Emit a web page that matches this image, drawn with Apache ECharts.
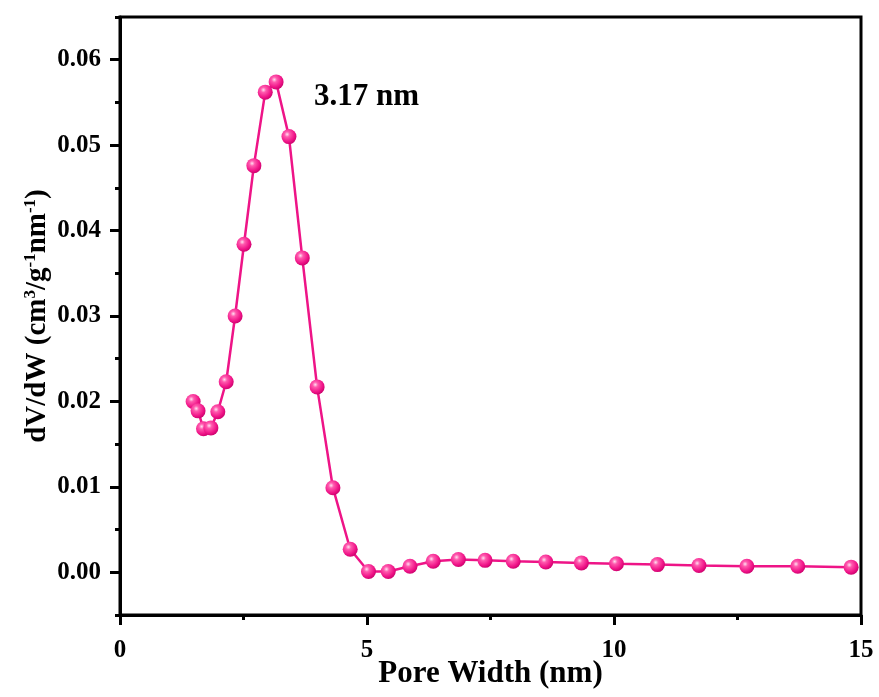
<!DOCTYPE html>
<html>
<head>
<meta charset="utf-8">
<script src="https://cdn.jsdelivr.net/npm/echarts@6/dist/echarts.min.js"></script>
<style>
html,body{margin:0;padding:0;background:#fff;}
#chart{width:879px;height:697px;}
</style>
</head>
<body>
<div id="chart"></div>
<script>
// Pore width (nm)
const poreWidth = [1.48, 1.58, 1.69, 1.84, 1.98, 2.15, 2.33, 2.51, 2.71, 2.94, 3.16, 3.42, 3.69, 3.99, 4.31, 4.66,
  5.03, 5.43, 5.87, 6.34, 6.85, 7.39, 7.96, 8.62, 9.34, 10.05, 10.88, 11.72, 12.69, 13.72, 14.80];
// dV/dW (cm3/g-1nm-1)
const dVdW = [0.0200, 0.0189, 0.0168, 0.0169, 0.0188, 0.0223, 0.0300, 0.0384, 0.0476, 0.0562, 0.0574, 0.0510, 0.0368, 0.0217, 0.0099, 0.0027,
  0.0001, 0.0001, 0.0007, 0.0013, 0.0015, 0.0014, 0.0013, 0.0012, 0.0011, 0.0010, 0.0009, 0.0008, 0.0007, 0.0007, 0.0006];
const yMajorTicks = [0, 0.01, 0.02, 0.03, 0.04, 0.05, 0.06];
const xMajorLabels = [0, 5, 10, 15];
const peakLabel = '3.17 nm';

const FONT = '"Liberation Serif", "Times New Roman", serif';
const chart = echarts.init(document.getElementById('chart'));
const data = poreWidth.map((x, i) => [x, dVdW[i]]);

chart.setOption({
  backgroundColor: '#ffffff',
  animation: false,
  grid: { left: 120, right: 18, top: 17, bottom: 82, outerBoundsMode: 'none', containLabel: false,
    show: true, borderColor: '#000', borderWidth: 3, backgroundColor: 'transparent' },
  xAxis: [
    {
      type: 'value', min: 0, max: 15, interval: 2.5, position: 'bottom',
      name: 'Pore Width (nm)', nameLocation: 'middle', nameGap: 43, nameMoveOverlap: false,
      nameTextStyle: { fontFamily: FONT, fontWeight: 'bold', fontSize: 31, color: '#000' },
      axisLine: { show: true, onZero: false, lineStyle: { color: '#000', width: 3 } },
      axisTick: { show: true, inside: false, length: 5, lineStyle: { color: '#000', width: 3 } },
      axisLabel: { margin: 23, fontFamily: FONT, fontWeight: 'bold', fontSize: 25, color: '#000',
        formatter: v => (xMajorLabels.some(m => Math.abs(m - v) < 1e-6) ? String(v) : '') },
      splitLine: { show: false }
    },
    {
      type: 'value', min: 0, max: 15, interval: 5, position: 'bottom',
      axisLine: { show: false, onZero: false },
      axisTick: { show: true, inside: false, length: 10, lineStyle: { color: '#000', width: 3 } },
      axisLabel: { show: false },
      splitLine: { show: false }
    }
  ],
  yAxis: [
    {
      type: 'value', min: -0.005, max: 0.065, interval: 0.005, position: 'left',
      name: '{a|dV/dW (cm}{s|3}{a|/g}{s|-1}{a|nm}{s|-1}{a|)}',
      nameLocation: 'middle', nameGap: 66, nameRotate: 90, nameMoveOverlap: false,
      nameTextStyle: {
        color: '#000',
        rich: {
          a: { fontFamily: FONT, fontWeight: 'bold', fontSize: 29, color: '#000', lineHeight: 32 },
          s: { fontFamily: FONT, fontWeight: 'bold', fontSize: 17, color: '#000', verticalAlign: 'top', lineHeight: 17 }
        }
      },
      axisLine: { show: true, onZero: false, lineStyle: { color: '#000', width: 3 } },
      axisTick: { show: true, inside: false, length: 5, lineStyle: { color: '#000', width: 3 } },
      axisLabel: { show: false },
      splitLine: { show: false }
    },
    {
      type: 'value', min: -0.005, max: 0.065, position: 'left',
      axisLine: { show: false, onZero: false },
      axisTick: { show: true, inside: false, length: 10, customValues: yMajorTicks, lineStyle: { color: '#000', width: 3 } },
      axisLabel: { show: true, margin: 19, customValues: yMajorTicks, fontFamily: FONT, fontWeight: 'bold', fontSize: 25, color: '#000',
        formatter: v => v.toFixed(2) },
      splitLine: { show: false }
    }
  ],
  graphic: [
    { type: 'text', left: 314, top: 81, style: { text: peakLabel, font: 'bold 31px ' + FONT, fill: '#000' } }
  ],
  series: [{
    type: 'line',
    xAxisIndex: 0, yAxisIndex: 0,
    data: data,
    symbol: 'circle',
    symbolSize: 15,
    lineStyle: { color: '#EE1487', width: 2.5 },
    itemStyle: {
      color: { type: 'radial', x: 0.38, y: 0.35, r: 0.7, colorStops: [
        { offset: 0, color: '#FFE0F0' },
        { offset: 0.25, color: '#FF5AAE' },
        { offset: 0.7, color: '#F01488' },
        { offset: 1, color: '#C8006A' }
      ] },
      borderWidth: 0
    },
    z: 3
  }]
});
</script>
</body>
</html>
